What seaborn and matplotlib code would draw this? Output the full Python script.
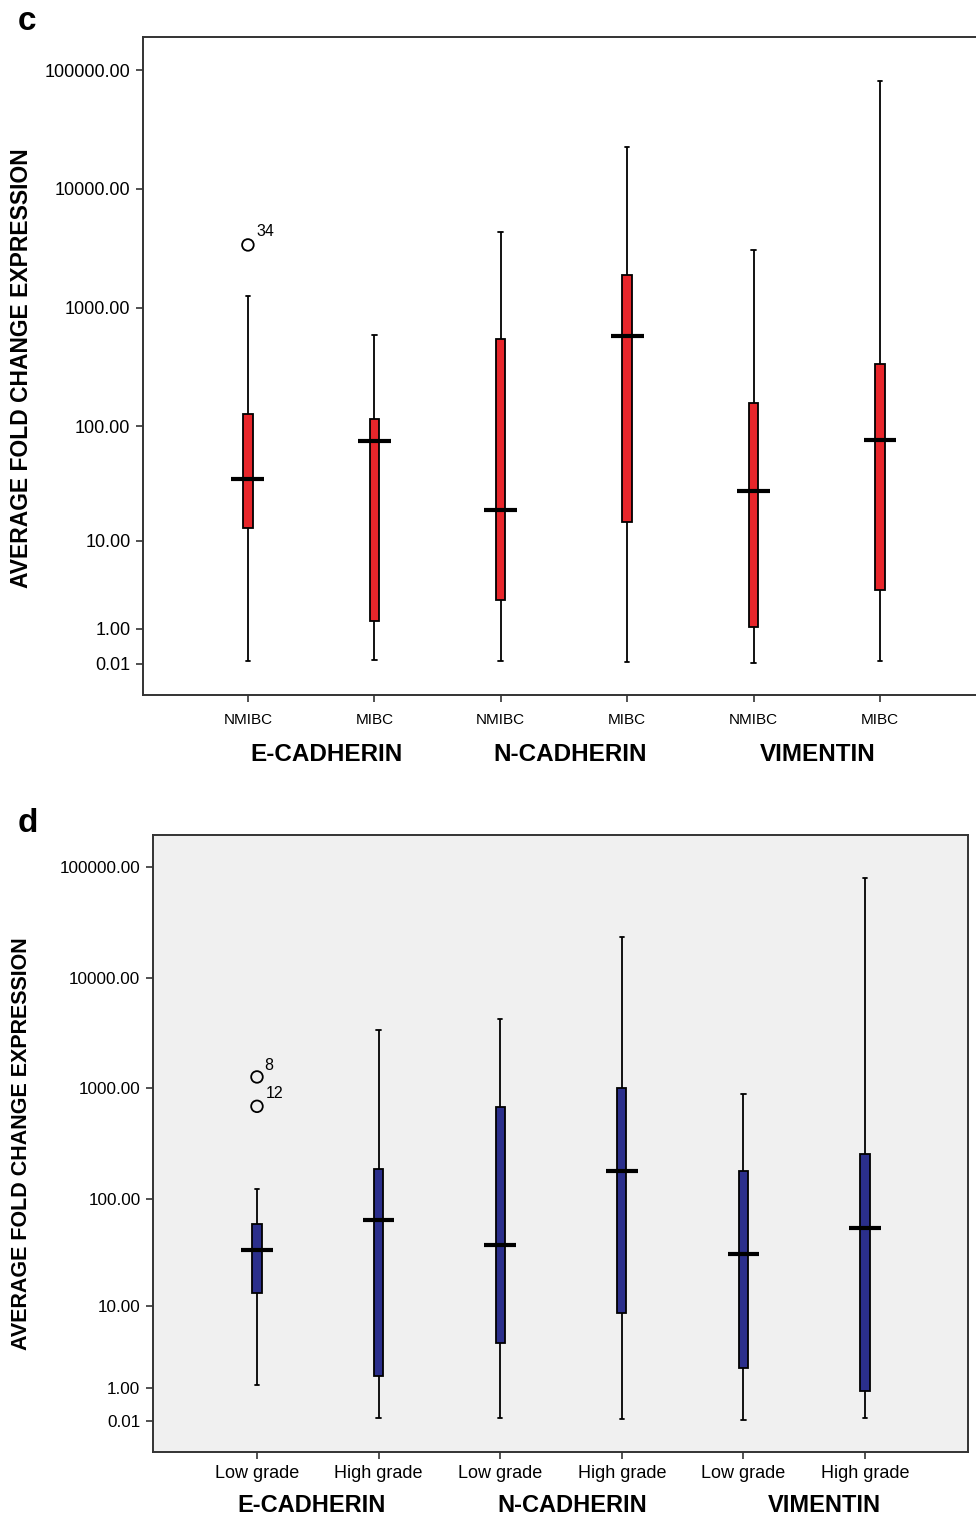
import numpy as np
import pandas as pd
import matplotlib
matplotlib.use("Agg")
import matplotlib.pyplot as plt
import matplotlib.transforms as mtransforms
import seaborn as sns

sns.set_style("ticks")
plt.rcParams["font.family"] = ["Liberation Sans", "DejaVu Sans"]
plt.rcParams.update({"text.color": "black", "xtick.color": "black",
                     "ytick.color": "black", "axes.labelcolor": "black"})

genes = ["E-CADHERIN", "N-CADHERIN", "VIMENTIN"]

# panel c: NMIBC vs MIBC (five-number summaries)
stage_labels = ["NMIBC", "MIBC"]
stage_low = [0.06, 0.09, 0.06, 0.05, 0.03, 0.06]
stage_q1 = [13, 1.3, 2.5, 14.8, 1.07, 3.2]
stage_med = [35, 75, 19, 575, 28, 77]
stage_q3 = [127, 116, 545, 1900, 157, 337]
stage_high = [1255, 590, 4350, 22500, 3070, 81000]
stage_out_pos = [0]
stage_out_val = [3380]
stage_out_id = ["34"]

# panel d: low grade vs high grade
grade_labels = ["Low grade", "High grade"]
grade_low = [1.13, 0.07, 0.07, 0.05, 0.03, 0.07]
grade_q1 = [13.4, 1.57, 4.1, 8.5, 2.03, 0.88]
grade_med = [34, 64, 38, 180, 31, 54]
grade_q3 = [59, 187, 680, 1010, 180, 256]
grade_high = [123, 3360, 4230, 23200, 890, 78700]
grade_out_pos = [0, 0]
grade_out_val = [1270, 690]
grade_out_id = ["8", "12"]

yticks = [0.01, 1, 10, 100, 1000, 10000, 100000]


def fwd(y):
    return np.log10(np.clip(np.asarray(y, dtype=float) + 1, 1e-9, None))


def inv(y):
    return 10 ** np.asarray(y, dtype=float) - 1


def box_frame(low, q1, med, q3, high, sub):
    rows, keys, ticklabels = [], [], []
    for i, g in enumerate(genes):
        for j, s in enumerate(sub):
            k = 2 * i + j
            key = f"{g} {s}"
            keys.append(key)
            ticklabels.append(s)
            for v in (low[k], q1[k], med[k], q3[k], high[k]):
                rows.append({"box": key, "value": v})
    return pd.DataFrame(rows), keys, ticklabels


def draw_panel(ax, df, order, ticklabels, color, out_pos, out_val, out_id,
               ylim, xlim, gene_x, gene_y, lab_offsets, xsize, ysize, gsize,
               xpad):
    ax.set_yscale("function", functions=(fwd, inv))
    sns.boxplot(data=df, x="box", y="value", order=order, ax=ax,
                whis=(0, 100), width=0.075, color=color, saturation=1,
                linecolor="black", linewidth=1.3, showfliers=False,
                medianprops={"visible": False})
    # wide median bars
    sns.boxplot(data=df, x="box", y="value", order=order, ax=ax,
                whis=(0, 100), width=0.26, fill=False, showfliers=False,
                showcaps=False, linecolor="black",
                boxprops={"visible": False}, whiskerprops={"visible": False},
                medianprops={"linewidth": 3, "color": "black", "zorder": 5})
    sns.scatterplot(x=out_pos, y=out_val, ax=ax, marker="o", s=70,
                    facecolor="none", edgecolor="black", linewidth=1.3,
                    zorder=6, legend=False)
    for p, v, t, off in zip(out_pos, out_val, out_id, lab_offsets):
        ax.annotate(t, (p, v), xytext=off, textcoords="offset points",
                    fontsize=11.5, ha="left", va="bottom")
    ax.set_ylim(*ylim)
    ax.set_xlim(*xlim)
    ax.set_yticks(yticks)
    ax.set_yticklabels([f"{t:.2f}" for t in yticks])
    ax.yaxis.set_minor_locator(matplotlib.ticker.NullLocator())
    ax.set_xticks(range(len(order)))
    ax.set_xticklabels(ticklabels)
    ax.set_xlabel("")
    ax.set_ylabel("")
    ax.tick_params(axis="both", length=5, width=1.2, color="#333333", pad=4)
    ax.tick_params(axis="x", labelsize=xsize, pad=xpad)
    ax.tick_params(axis="y", labelsize=ysize)
    for s in ax.spines.values():
        s.set_linewidth(1.4)
        s.set_color("#333333")
    trans = mtransforms.blended_transform_factory(ax.transData, ax.transAxes)
    for g, gx in zip(genes, gene_x):
        ax.text(gx, gene_y, g, transform=trans, ha="center", va="center",
                fontsize=gsize, fontweight="bold")


fig = plt.figure(figsize=(9.76, 15.18), dpi=100)

# panel c
ax_c = fig.add_axes([143 / 976, 1 - 695 / 1518, 1 - 143 / 976, 658 / 1518])
df_c, keys_c, tl_c = box_frame(stage_low, stage_q1, stage_med, stage_q3,
                               stage_high, stage_labels)
draw_panel(ax_c, df_c, keys_c, tl_c, "#e8262b", stage_out_pos, stage_out_val,
           stage_out_id, (inv(-0.2565), inv(5.278)), (-0.83, 5.76),
           [0.62, 2.55, 4.51], -0.091, [(6, 4)], 11, 13, 17.5, 8)
ax_c.spines["right"].set_visible(False)

# panel d
ax_d = fig.add_axes([153 / 976, 1 - 1452 / 1518, 815 / 976, 617 / 1518])
ax_d.set_facecolor("#f0f0f0")
df_d, keys_d, tl_d = box_frame(grade_low, grade_q1, grade_med, grade_q3,
                               grade_high, grade_labels)
draw_panel(ax_d, df_d, keys_d, tl_d, "#2b2f8c", grade_out_pos, grade_out_val,
           grade_out_id, (inv(-0.275), inv(5.284)), (-0.855, 5.847),
           [0.45, 2.59, 4.67], -0.0875, [(5, 3), (6, 4)], 13, 12.3, 17, 4)

fig.text(22 / 976, 1 - 368 / 1518, "AVERAGE FOLD CHANGE EXPRESSION",
         rotation=90, ha="center", va="center", fontsize=16.5, fontweight="bold")
fig.text(22 / 976, 1 - 1144 / 1518, "AVERAGE FOLD CHANGE EXPRESSION",
         rotation=90, ha="center", va="center", fontsize=15.5, fontweight="bold")
fig.text(18 / 976, 1 - 21 / 1518, "c", ha="left", va="center",
         fontsize=24, fontweight="bold")
fig.text(18 / 976, 1 - 823 / 1518, "d", ha="left", va="center",
         fontsize=24, fontweight="bold")

fig.savefig("out.png", dpi=100)
